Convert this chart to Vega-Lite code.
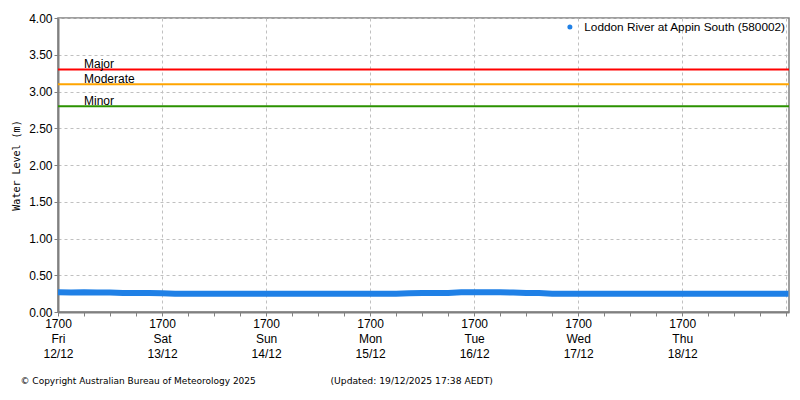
{
  "$schema": "https://vega.github.io/schema/vega-lite/v6.json",
  "width": 731,
  "height": 294,
  "autosize": {"type": "none"},
  "padding": {"left": 58, "top": 18, "right": 11, "bottom": 88},
  "background": "white",
  "datasets": {
    "level": [
      {"time": "2025-12-12T17:00:00Z", "metres": 0.27},
      {"time": "2025-12-12T20:00:00Z", "metres": 0.265},
      {"time": "2025-12-12T23:00:00Z", "metres": 0.27},
      {"time": "2025-12-13T02:00:00Z", "metres": 0.265},
      {"time": "2025-12-13T05:00:00Z", "metres": 0.265},
      {"time": "2025-12-13T08:00:00Z", "metres": 0.26},
      {"time": "2025-12-13T11:00:00Z", "metres": 0.26},
      {"time": "2025-12-13T14:00:00Z", "metres": 0.26},
      {"time": "2025-12-13T17:00:00Z", "metres": 0.255},
      {"time": "2025-12-13T20:00:00Z", "metres": 0.25},
      {"time": "2025-12-13T23:00:00Z", "metres": 0.25},
      {"time": "2025-12-14T02:00:00Z", "metres": 0.25},
      {"time": "2025-12-14T05:00:00Z", "metres": 0.25},
      {"time": "2025-12-14T08:00:00Z", "metres": 0.25},
      {"time": "2025-12-14T11:00:00Z", "metres": 0.25},
      {"time": "2025-12-14T14:00:00Z", "metres": 0.25},
      {"time": "2025-12-14T17:00:00Z", "metres": 0.25},
      {"time": "2025-12-14T20:00:00Z", "metres": 0.25},
      {"time": "2025-12-14T23:00:00Z", "metres": 0.25},
      {"time": "2025-12-15T02:00:00Z", "metres": 0.25},
      {"time": "2025-12-15T05:00:00Z", "metres": 0.25},
      {"time": "2025-12-15T08:00:00Z", "metres": 0.25},
      {"time": "2025-12-15T11:00:00Z", "metres": 0.25},
      {"time": "2025-12-15T14:00:00Z", "metres": 0.25},
      {"time": "2025-12-15T17:00:00Z", "metres": 0.25},
      {"time": "2025-12-15T20:00:00Z", "metres": 0.25},
      {"time": "2025-12-15T23:00:00Z", "metres": 0.25},
      {"time": "2025-12-16T02:00:00Z", "metres": 0.255},
      {"time": "2025-12-16T05:00:00Z", "metres": 0.26},
      {"time": "2025-12-16T08:00:00Z", "metres": 0.26},
      {"time": "2025-12-16T11:00:00Z", "metres": 0.26},
      {"time": "2025-12-16T14:00:00Z", "metres": 0.27},
      {"time": "2025-12-16T17:00:00Z", "metres": 0.27},
      {"time": "2025-12-16T20:00:00Z", "metres": 0.27},
      {"time": "2025-12-16T23:00:00Z", "metres": 0.27},
      {"time": "2025-12-17T02:00:00Z", "metres": 0.265},
      {"time": "2025-12-17T05:00:00Z", "metres": 0.26},
      {"time": "2025-12-17T08:00:00Z", "metres": 0.26},
      {"time": "2025-12-17T11:00:00Z", "metres": 0.25},
      {"time": "2025-12-17T14:00:00Z", "metres": 0.25},
      {"time": "2025-12-17T17:00:00Z", "metres": 0.25},
      {"time": "2025-12-17T20:00:00Z", "metres": 0.25},
      {"time": "2025-12-17T23:00:00Z", "metres": 0.25},
      {"time": "2025-12-18T02:00:00Z", "metres": 0.25},
      {"time": "2025-12-18T05:00:00Z", "metres": 0.25},
      {"time": "2025-12-18T08:00:00Z", "metres": 0.25},
      {"time": "2025-12-18T11:00:00Z", "metres": 0.25},
      {"time": "2025-12-18T14:00:00Z", "metres": 0.25},
      {"time": "2025-12-18T17:00:00Z", "metres": 0.25},
      {"time": "2025-12-18T20:00:00Z", "metres": 0.25},
      {"time": "2025-12-18T23:00:00Z", "metres": 0.25},
      {"time": "2025-12-19T02:00:00Z", "metres": 0.25},
      {"time": "2025-12-19T05:00:00Z", "metres": 0.25},
      {"time": "2025-12-19T08:00:00Z", "metres": 0.25},
      {"time": "2025-12-19T11:00:00Z", "metres": 0.25},
      {"time": "2025-12-19T14:00:00Z", "metres": 0.25},
      {"time": "2025-12-19T17:00:00Z", "metres": 0.25},
      {"time": "2025-12-19T17:30:00Z", "metres": 0.25}
    ],
    "thresholds": [
      {"level": "Major", "metres": 3.3},
      {"level": "Moderate", "metres": 3.1},
      {"level": "Minor", "metres": 2.8}
    ]
  },
  "layer": [
    {
      "data": {"name": "thresholds"},
      "mark": {"type": "rule", "strokeWidth": 2},
      "encoding": {
        "y": {
          "field": "metres",
          "type": "quantitative",
          "scale": {"domain": [0, 4], "nice": false},
          "axis": {
            "values": [0, 0.5, 1, 1.5, 2, 2.5, 3, 3.5, 4],
            "format": ".2f",
            "labelOverlap": false,
            "title": "Water Level (m)"
          }
        },
        "color": {
          "field": "level",
          "type": "nominal",
          "scale": {"domain": ["Major", "Moderate", "Minor"], "range": ["#ff0000", "#ffa500", "#2b9200"]},
          "legend": null
        }
      }
    },
    {
      "data": {"name": "thresholds"},
      "mark": {"type": "text", "align": "left", "baseline": "alphabetic", "dy": -1, "fontSize": 12, "color": "black"},
      "encoding": {
        "x": {
          "datum": {"year": 2025, "month": "dec", "date": 12, "hours": 23, "utc": true},
          "type": "temporal",
          "scale": {
            "type": "utc",
            "domain": [
              {"year": 2025, "month": "dec", "date": 12, "hours": 17, "utc": true},
              {"year": 2025, "month": "dec", "date": 19, "hours": 17, "minutes": 38, "utc": true}
            ]
          },
          "axis": {
            "orient": "bottom",
            "domain": false,
            "grid": false,
            "labels": false,
            "tickSize": 4,
            "tickColor": "#808080",
            "values": [
              {"year": 2025, "month": "dec", "date": 12, "hours": 23, "utc": true},
              {"year": 2025, "month": "dec", "date": 13, "hours": 5, "utc": true},
              {"year": 2025, "month": "dec", "date": 13, "hours": 11, "utc": true},
              {"year": 2025, "month": "dec", "date": 13, "hours": 23, "utc": true},
              {"year": 2025, "month": "dec", "date": 14, "hours": 5, "utc": true},
              {"year": 2025, "month": "dec", "date": 14, "hours": 11, "utc": true},
              {"year": 2025, "month": "dec", "date": 14, "hours": 23, "utc": true},
              {"year": 2025, "month": "dec", "date": 15, "hours": 5, "utc": true},
              {"year": 2025, "month": "dec", "date": 15, "hours": 11, "utc": true},
              {"year": 2025, "month": "dec", "date": 15, "hours": 23, "utc": true},
              {"year": 2025, "month": "dec", "date": 16, "hours": 5, "utc": true},
              {"year": 2025, "month": "dec", "date": 16, "hours": 11, "utc": true},
              {"year": 2025, "month": "dec", "date": 16, "hours": 23, "utc": true},
              {"year": 2025, "month": "dec", "date": 17, "hours": 5, "utc": true},
              {"year": 2025, "month": "dec", "date": 17, "hours": 11, "utc": true},
              {"year": 2025, "month": "dec", "date": 17, "hours": 23, "utc": true},
              {"year": 2025, "month": "dec", "date": 18, "hours": 5, "utc": true},
              {"year": 2025, "month": "dec", "date": 18, "hours": 11, "utc": true},
              {"year": 2025, "month": "dec", "date": 18, "hours": 23, "utc": true},
              {"year": 2025, "month": "dec", "date": 19, "hours": 5, "utc": true},
              {"year": 2025, "month": "dec", "date": 19, "hours": 11, "utc": true}
            ],
            "title": "(Updated: 19/12/2025 17:38 AEDT)",
            "titleX": 272,
            "titleY": 68,
            "titleAlign": "left",
            "titleBaseline": "middle",
            "titleFont": "DejaVu Sans",
            "titleFontSize": 9.2,
            "titleFontWeight": "normal"
          }
        },
        "y": {
          "field": "metres",
          "type": "quantitative",
          "scale": {"domain": [0, 4], "nice": false},
          "axis": {
            "values": [0, 0.5, 1, 1.5, 2, 2.5, 3, 3.5, 4],
            "format": ".2f",
            "labelOverlap": false,
            "title": "Water Level (m)"
          }
        },
        "text": {"field": "level"}
      }
    },
    {
      "data": {"name": "level"},
      "mark": {"type": "line", "strokeWidth": 6, "strokeCap": "butt", "clip": true},
      "encoding": {
        "x": {
          "field": "time",
          "type": "temporal",
          "scale": {
            "type": "utc",
            "domain": [
              {"year": 2025, "month": "dec", "date": 12, "hours": 17, "utc": true},
              {"year": 2025, "month": "dec", "date": 19, "hours": 17, "minutes": 38, "utc": true}
            ]
          },
          "axis": {
            "orient": "bottom",
            "grid": true,
            "tickSize": 4,
            "values": [
              {"year": 2025, "month": "dec", "date": 12, "hours": 17, "utc": true},
              {"year": 2025, "month": "dec", "date": 13, "hours": 17, "utc": true},
              {"year": 2025, "month": "dec", "date": 14, "hours": 17, "utc": true},
              {"year": 2025, "month": "dec", "date": 15, "hours": 17, "utc": true},
              {"year": 2025, "month": "dec", "date": 16, "hours": 17, "utc": true},
              {"year": 2025, "month": "dec", "date": 17, "hours": 17, "utc": true},
              {"year": 2025, "month": "dec", "date": 18, "hours": 17, "utc": true},
              {"year": 2025, "month": "dec", "date": 19, "hours": 17, "utc": true}
            ],
            "labelExpr": "utcdate(datum.value) == 19 ? '' : ['1700', utcFormat(datum.value, '%a'), utcFormat(datum.value, '%d/%m')]",
            "labelLineHeight": 15,
            "labelBaseline": "top",
            "labelPadding": 2,
            "labelFlush": false,
            "labelOverlap": false,
            "title": "© Copyright Australian Bureau of Meteorology 2025",
            "titleX": -38,
            "titleY": 68,
            "titleAlign": "left",
            "titleBaseline": "middle",
            "titleFont": "DejaVu Sans",
            "titleFontSize": 9,
            "titleFontWeight": "normal"
          }
        },
        "y": {
          "field": "metres",
          "type": "quantitative",
          "scale": {"domain": [0, 4], "nice": false},
          "axis": {
            "values": [0, 0.5, 1, 1.5, 2, 2.5, 3, 3.5, 4],
            "format": ".2f",
            "labelOverlap": false,
            "title": "Water Level (m)"
          }
        },
        "color": {
          "field": "site",
          "type": "nominal",
          "scale": {"domain": ["Loddon River at Appin South (580002)"], "range": ["#1f80e6"]},
          "legend": {
            "orient": "top-right",
            "offset": 0,
            "padding": 3,
            "title": null,
            "symbolType": "circle",
            "symbolSize": 25,
            "symbolFillColor": "#1f80e6",
            "symbolStrokeWidth": 0,
            "labelOffset": 8.5,
            "labelFontSize": 11.8,
            "labelLimit": 0,
            "labelColor": "black"
          }
        }
      },
      "transform": [{"calculate": "'Loddon River at Appin South (580002)'", "as": "site"}]
    }
  ],
  "resolve": {
    "scale": {"color": "independent"},
    "axis": {"x": "independent"}
  },
  "config": {
    "font": "Liberation Sans",
    "view": {"stroke": "#808080", "strokeWidth": 1.5},
    "axis": {
      "labelFontSize": 12,
      "labelColor": "black",
      "labelFont": "Liberation Sans",
      "domainColor": "#808080",
      "domainWidth": 2,
      "tickColor": "#808080",
      "gridColor": "#c0c0c0",
      "gridDash": [3, 3],
      "gridWidth": 1
    },
    "axisY": {
      "grid": true,
      "tickSize": 4,
      "labelPadding": 2,
      "titleFont": "DejaVu Sans Mono",
      "titleFontSize": 10,
      "titleFontWeight": "normal",
      "titleColor": "black",
      "titlePadding": 7
    }
  }
}
